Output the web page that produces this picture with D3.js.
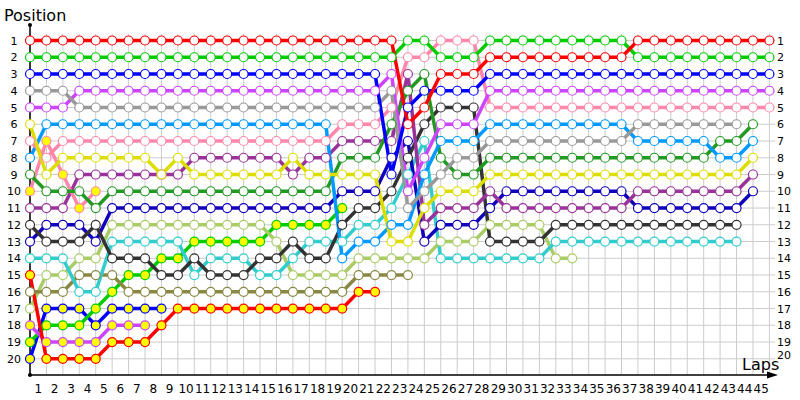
<!DOCTYPE html>
<html><head><meta charset="utf-8">
<script src="https://cdn.jsdelivr.net/npm/d3@7"></script>
<style>body{margin:0;background:#fff;}svg{display:block;font-family:Tahoma,"DejaVu Sans",sans-serif;}</style>
</head><body><svg id="c" width="800" height="400"></svg>
<script>
const lapLabels = d3.range(1, 46);
const positionTicks = d3.range(1, 21);

// positions per lap, starting with the grid (lap 0)
const red        = [1,1,1,1,1,1,1,1,1,1,1,1,1,1,1,1,1,1,1,1,1,1,1,6,5,3,3,3,2,2,2,2,2,2,2,2,2,1,1,1,1,1,1,1,1,1];
const green      = [2,2,2,2,2,2,2,2,2,2,2,2,2,2,2,2,2,2,2,2,2,2,2,1,1,2,2,2,1,1,1,1,1,1,1,1,1,2,2,2,2,2,2,2,2,2];
const blue       = [3,3,3,3,3,3,3,3,3,3,3,3,3,3,3,3,3,3,3,3,3,3,9,5,4,4,4,4,3,3,3,3,3,3,3,3,3,3,3,3,3,3,3,3,3,3];
const gray       = [4,4,4,5,5,5,5,5,5,5,5,5,5,5,5,5,5,5,5,5,5,5,4,11,10,9,8,8,7,7,7,7,7,7,7,7,7,6,6,6,6,6,6,6];
const violet     = [5,5,5,4,4,4,4,4,4,4,4,4,4,4,4,4,4,4,4,4,4,4,3,10,8,6,6,6,4,4,4,4,4,4,4,4,4,4,4,4,4,4,4,4,4,4];
const yellow     = [6,9,8,8,8,8,8,8,9,8,9,9,9,9,9,9,8,9,9,9,9,9,13,13,11,10,10,10,9,9,9,9,9,9,9,9,9,9,9,9,9,9,9,9,8];
const pink       = [7,8,7,7,7,7,7,7,7,7,7,7,7,7,7,7,7,7,7,6,6,6,5,2,2,1,1,1,5,5,5,5,5,5,5,5,5,5,5,5,5,5,5,5,5,5];
const lightBlue  = [8,6,6,6,6,6,6,6,6,6,6,6,6,6,6,6,6,6,6,14,13,13,12,12,9,7,7,7,6,6,6,6,6,6,6,6,6,7,7,7,7,7,8,8,7];
const darkGreen  = [9,10,10,10,11,10,10,10,10,10,10,10,10,10,10,10,10,10,10,8,8,8,6,4,3,8,9,9,8,8,8,8,8,8,8,8,8,8,8,8,8,8,7,7,6];
const pinkFilled = [10,7,9,11,10];
const purple     = [11,11,11,9,9,9,9,9,9,9,8,8,8,8,8,8,9,8,8,7,7,7,7,3,12,11,11,11,10,11,11,11,11,11,11,11,11,10,10,10,10,10,10,10,9];
const darkGray   = [12,13,13,13,12,14,14,14,15,15,14,15,15,15,14,14,13,14,14,12,11,11,10,8,6,5,5,5,13,13,13,13,12,12,12,12,12,12,12,12,12,12,12,12];
const darkBlue   = [13,12,12,12,13,11,11,11,11,11,11,11,11,11,11,11,11,11,11,10,10,10,8,7,13,12,12,12,11,10,10,10,10,10,10,10,10,11,11,11,11,11,11,11,10];
const cyan       = [14,14,14,16,16,13,13,13,13,13,15,14,14,14,15,15,14,13,13,13,12,12,11,9,7,14,14,14,14,14,14,14,13,13,13,13,13,13,13,13,13,13,13,13];
const redFilled  = [15,20,20,20,20,19,19,19,18,17,17,17,17,17,17,17,17,17,17,17,16,16];
const olive      = [16,16,16,15,15,15,16,16,16,16,16,16,16,16,16,16,16,16,16,16,15,15,15,15];
const lightGreen = [17,15,15,14,14,12,12,12,12,12,12,12,12,12,12,13,15,15,15,15,14,14,14,14,14,13,13,13,12,12,12,12,14,14];
const violetFilled = [18,19,19,19,19,18,18,18];
const greenFilled  = [19,18,18,18,17,16,15,15,14,14,13,13,13,13,13,12,12,12,12,11];
const blueFilled   = [20,17,17,17,18,17,17,17,17];

const series = [
  {v: blueFilled,   c: "#0000ff", f: true},
  {v: greenFilled,  c: "#00cc00", f: true},
  {v: violetFilled, c: "#cc44ff", f: true},
  {v: lightGreen,   c: "#aacc66", f: false},
  {v: olive,        c: "#888844", f: false},
  {v: redFilled,    c: "#ff0000", f: true},
  {v: cyan,         c: "#33cccc", f: false},
  {v: darkBlue,     c: "#1100bb", f: false},
  {v: darkGray,     c: "#333333", f: false},
  {v: purple,       c: "#993399", f: false},
  {v: pinkFilled,   c: "#ff88aa", f: true},
  {v: darkGreen,    c: "#229922", f: false},
  {v: lightBlue,    c: "#0099ff", f: false},
  {v: pink,         c: "#ff88aa", f: false},
  {v: yellow,       c: "#dddd00", f: false},
  {v: violet,       c: "#cc44ff", f: false},
  {v: gray,         c: "#999999", f: false},
  {v: blue,         c: "#0000ff", f: false},
  {v: green,        c: "#00cc00", f: false},
  {v: red,          c: "#ff0000", f: false}
];

const svg = d3.select("#c");
const x = d3.scaleLinear().domain([0, 45]).range([30, 769.4]);
const y = d3.scaleLinear().domain([1, 20]).range([40.5, 358.8]);

// grid
const g = svg.append("g");
g.selectAll(".vg").data(d3.range(0, 46)).join("line")
  .attr("x1", d => x(d)).attr("x2", d => x(d)).attr("y1", 34).attr("y2", 375)
  .attr("stroke", "#cccccc").attr("stroke-width", 1);
g.selectAll(".hg").data(positionTicks).join("line")
  .attr("x1", 30).attr("x2", 775).attr("y1", d => y(d)).attr("y2", d => y(d))
  .attr("stroke", "#cccccc").attr("stroke-width", 1);

// axes
svg.append("line").attr("x1", 30).attr("x2", 30).attr("y1", 25).attr("y2", 375).attr("stroke", "#000").attr("stroke-width", 1.5);
svg.append("circle").attr("cx", 30).attr("cy", 25).attr("r", 2).attr("fill", "#000");
svg.append("circle").attr("cx", 30).attr("cy", 375).attr("r", 2).attr("fill", "#000");
svg.append("line").attr("x1", 30).attr("x2", 772).attr("y1", 375).attr("y2", 375).attr("stroke", "#000").attr("stroke-width", 1.5);
svg.append("path").attr("d", "M767,371.5 L778,375 L767,378.5 Z").attr("fill", "#000");

svg.append("text").attr("x", 4).attr("y", 21).attr("font-size", 16).text("Position");
svg.append("text").attr("x", 742).attr("y", 370).attr("font-size", 16).text("Laps");

svg.selectAll(".pl").data(positionTicks).join("text")
  .attr("x", 14).attr("y", d => y(d) + 4).attr("text-anchor", "middle").attr("font-size", 11).text(d => d);
svg.selectAll(".pr").data(positionTicks).join("text")
  .attr("x", 777).attr("y", d => y(d) + (d === 20 ? 0 : 4)).attr("text-anchor", "start").attr("font-size", 11).text(d => d);
svg.selectAll(".lx").data(lapLabels).join("text")
  .attr("x", d => x(d - 0.5)).attr("y", 393).attr("text-anchor", "middle").attr("font-size", 12).text(d => d);

const line = d3.line().x((d, i) => x(i)).y(d => y(d));
series.forEach(s => {
  svg.append("path").attr("d", line(s.v)).attr("fill", "none")
    .attr("stroke", s.c).attr("stroke-width", 3.5).attr("stroke-linejoin", "round");
});
series.forEach(s => {
  svg.append("g").selectAll("circle").data(s.v).join("circle")
    .attr("cx", (d, i) => x(i)).attr("cy", d => y(d)).attr("r", 4.5)
    .attr("fill", s.f ? "#ffff00" : "#ffffff").attr("stroke", s.c).attr("stroke-width", 1.2);
});
</script></body></html>
